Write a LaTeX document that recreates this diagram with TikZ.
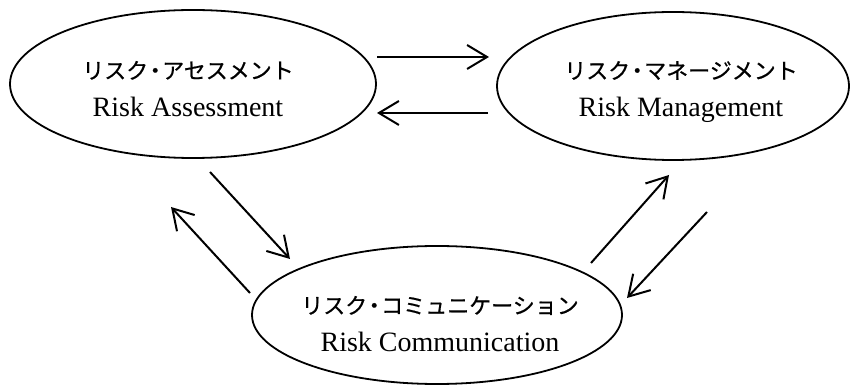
\documentclass[tikz,border=0pt]{standalone}
\usepackage{fontspec}
\setmainfont{Liberation Serif}
\newfontfamily\jpfont[FakeBold=0.6]{Noto Sans CJK JP}
\newcommand\jdot{\kern-4pt・\kern-4pt}
\usetikzlibrary{arrows.meta,shapes.geometric}

\begin{document}
\begin{tikzpicture}[x=1pt,y=-1pt,
      every node/.style={font=\fontsize{28}{38}\selectfont},
      area/.style={ellipse,draw,line width=1.8pt,inner sep=0pt},
      caption/.style={align=center,inner sep=0pt},
      flow/.style={line width=2pt,-{Straight Barb[length=20pt,width=24pt]}}]
    \useasboundingbox (0,0) rectangle (852,387);
    % three fields
    \node[area,minimum width=366pt,minimum height=148pt] (ra) at (193,84) {};
    \node[area,minimum width=352pt,minimum height=148pt] (rm) at (673,86) {};
    \node[area,minimum width=370pt,minimum height=138pt] (rc) at (437,315) {};
    \node[caption] (ra-t) at (188,89)
      {{\jpfont\fontsize{22}{38}\selectfont リスク\jdot アセスメント}\\Risk Assessment};
    \node[caption] (rm-t) at (681,92)
      {{\jpfont\fontsize{22}{38}\selectfont リスク\jdot マネージメント}\\Risk Management};
    \node[caption] (rc-t) at (440,324)
      {{\jpfont\fontsize{22}{38}\selectfont リスク\jdot コミュニケーション}\\Risk Communication};
    % arrow ends
    \coordinate (am1) at (377,57);  \coordinate (am2) at (489,57);
    \coordinate (ma1) at (488,113); \coordinate (ma2) at (377,113);
    \coordinate (ac1) at (210,172); \coordinate (ac2) at (290,259);
    \coordinate (ca1) at (250,293); \coordinate (ca2) at (171,207);
    \coordinate (cm1) at (591,263); \coordinate (cm2) at (669,175);
    \coordinate (mc1) at (707,212); \coordinate (mc2) at (627,298);
    \foreach \p in {am,ma,ac,ca,cm,mc}
      \draw[flow] (\p1) -- (\p2);
  \end{tikzpicture}
\end{document}
